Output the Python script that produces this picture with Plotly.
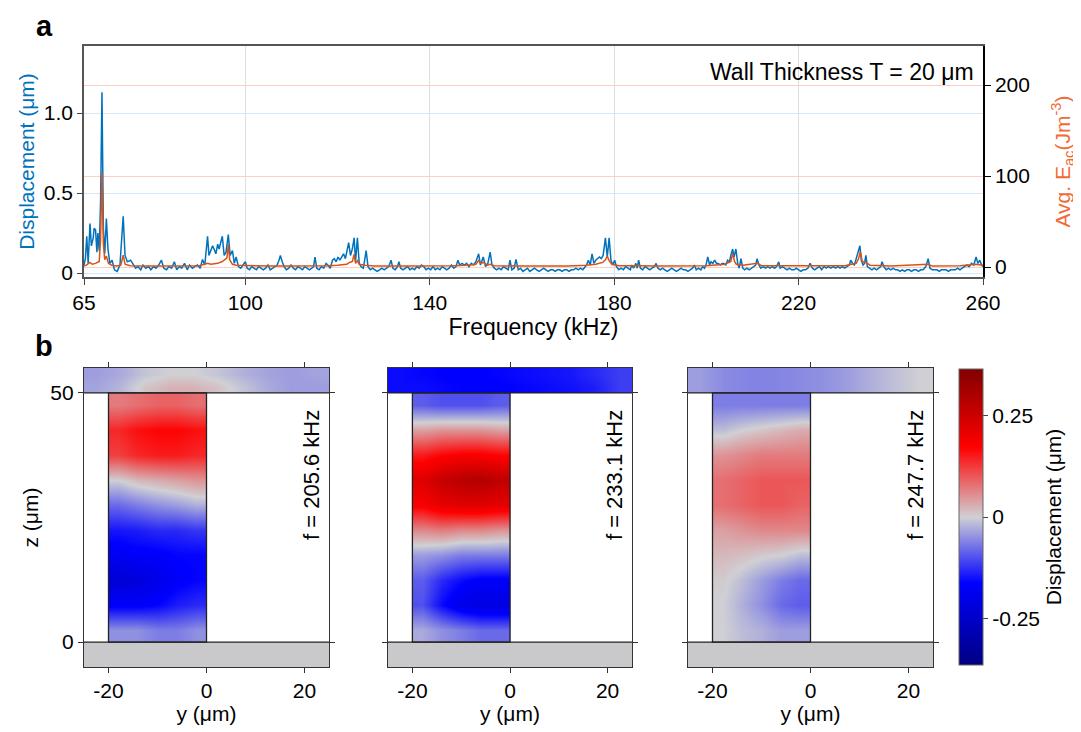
import plotly.graph_objects as go

freq_a = [65.0, 65.3, 65.6, 65.9, 66.3, 66.6, 67.0, 67.2, 67.5, 67.8,
          68.0, 68.3, 68.6, 68.9, 69.2, 69.5, 69.85, 70.2, 70.6, 71.1,
          71.6, 72.2, 72.8, 73.5, 73.9, 74.4, 75.1, 75.6, 76.2, 76.7,
          77.3, 77.8, 78.4, 79.0, 79.5, 80.1, 80.6, 81.2, 81.8, 82.3,
          82.9, 83.4, 84.0, 84.6, 85.1, 85.7, 86.2, 86.8, 87.4, 87.9,
          88.5, 89.0, 89.6, 90.2, 90.7, 91.2, 91.8, 92.1, 92.5, 92.9,
          93.2, 93.6, 94.0, 94.3, 95.0, 95.4, 95.8, 96.3, 96.7, 97.2,
          97.6, 98.0, 98.5, 99.0, 99.5]
disp_a = [0.05, 0.09, 0.23, 0.06, 0.31, 0.17, 0.22, 0.28, 0.27, 0.13,
          0.25, 0.14, 0.45, 1.13, 0.28, 0.12, 0.34, 0.15, 0.06, 0.08,
          0.02, 0.01, 0.05, 0.355, 0.11, 0.07, 0.08, 0.06, 0.03, 0.04,
          0.02, 0.05, 0.03, 0.04, 0.02, 0.04, 0.03, 0.05, 0.08, 0.03,
          0.02, 0.04, 0.03, 0.07, 0.02, 0.04, 0.03, 0.06, 0.02, 0.05,
          0.03, 0.04, 0.05, 0.03, 0.085, 0.05, 0.23, 0.11, 0.14, 0.17,
          0.15, 0.12, 0.18, 0.15, 0.23, 0.11, 0.13, 0.24, 0.11, 0.14,
          0.06, 0.10, 0.04, 0.03, 0.05]

freq_b = [100.0, 100.4, 100.9, 101.4, 101.9, 102.4, 102.9, 103.4, 103.9, 104.4,
          104.9, 105.4, 105.9, 106.4, 106.9, 107.3, 107.6, 108.0, 108.4, 108.9,
          109.4, 109.9, 110.4, 110.9, 111.4, 111.9, 112.4, 112.9, 113.4, 113.9,
          114.4, 114.8, 115.1, 115.5, 116.0, 116.5, 117.0, 117.5, 117.9, 118.4,
          118.9, 119.3, 119.7, 120.1, 120.5, 120.9, 121.3, 121.7, 122.0, 122.4,
          122.8, 123.2, 123.6, 123.9, 124.3, 124.7, 125.1, 125.6, 126.2, 126.6,
          127.1, 127.6, 128.1, 128.6, 129.1, 129.6, 130.1, 130.6, 131.1, 131.6,
          132.0, 132.5, 133.0, 133.3, 133.7, 134.2, 134.7, 135.2, 135.7, 136.2,
          136.7, 137.2, 137.7, 138.2, 138.7, 139.2, 139.7]
disp_b = [0.07, 0.03, 0.02, 0.04, 0.03, 0.02, 0.04, 0.03, 0.02, 0.03,
          0.05, 0.02, 0.03, 0.04, 0.05, 0.08, 0.11, 0.07, 0.04, 0.02,
          0.03, 0.05, 0.03, 0.02, 0.04, 0.03, 0.02, 0.04, 0.03, 0.02,
          0.03, 0.04, 0.10, 0.03, 0.02, 0.04, 0.03, 0.06, 0.05, 0.03,
          0.08, 0.09, 0.07, 0.10, 0.08, 0.10, 0.12, 0.09, 0.13, 0.19,
          0.11, 0.15, 0.22, 0.07, 0.22, 0.06, 0.04, 0.03, 0.14, 0.04,
          0.02, 0.03, 0.02, 0.01, 0.02, 0.03, 0.02, 0.03, 0.04, 0.08,
          0.03, 0.02, 0.04, 0.07, 0.03, 0.02, 0.03, 0.04, 0.02, 0.03,
          0.02, 0.04, 0.03, 0.05, 0.04, 0.02, 0.03]

freq_c = [140.2, 140.7, 141.2, 141.7, 142.2, 142.7, 143.2, 143.7, 144.2, 144.7,
          145.2, 145.7, 146.1, 146.5, 147.0, 147.5, 148.0, 148.5, 149.0, 149.5,
          150.0, 150.6, 151.0, 151.6, 152.1, 152.6, 153.1, 153.5, 154.0, 154.5,
          155.0, 155.5, 156.0, 156.5, 157.0, 157.4, 157.8, 158.3, 158.7, 159.2,
          159.7, 160.2, 160.7, 161.2, 161.7, 162.2, 162.7, 163.2, 163.7, 164.2,
          164.7, 165.2, 165.7, 166.2, 166.7, 167.2, 167.7, 168.2, 168.7, 169.2,
          169.7, 170.2, 170.7, 171.2, 171.7, 172.2, 172.7, 173.2, 173.7, 174.0,
          174.4, 174.8, 175.2, 175.6, 176.0, 176.4, 176.8, 177.2, 177.6, 178.1,
          178.5, 178.9, 179.3, 179.7]
disp_c = [0.02, 0.04, 0.02, 0.03, 0.02, 0.04, 0.03, 0.02, 0.03, 0.05,
          0.03, 0.04, 0.08, 0.05, 0.06, 0.05, 0.06, 0.04, 0.06, 0.05,
          0.07, 0.12, 0.05, 0.10, 0.04, 0.06, 0.13, 0.05, 0.03, 0.02,
          0.03, 0.02, 0.04, 0.03, 0.02, 0.08, 0.02, 0.03, 0.085, 0.02,
          0.03, 0.01, 0.02, 0.03, 0.01, 0.02, 0.03, 0.02, 0.01, 0.02,
          0.03, 0.02, 0.01, 0.02, 0.02, 0.01, 0.02, 0.02, 0.01, 0.02,
          0.02, 0.01, 0.02, 0.02, 0.03, 0.02, 0.03, 0.02, 0.04, 0.05,
          0.08, 0.05, 0.12, 0.06, 0.08, 0.09, 0.10, 0.09, 0.11, 0.22,
          0.10, 0.22, 0.08, 0.05]

freq_d = [180.1, 180.5, 181.0, 181.5, 182.0, 182.5, 183.0, 183.5, 183.8, 184.2,
          184.7, 185.0, 185.3, 185.7, 186.2, 186.7, 187.2, 187.7, 188.2, 188.7,
          189.1, 189.5, 190.0, 190.5, 191.0, 191.5, 192.0, 192.5, 193.0, 193.5,
          194.0, 194.5, 195.0, 195.5, 196.0, 196.5, 197.0, 197.4, 197.8, 198.3,
          198.8, 199.2, 199.6, 200.0, 200.3, 200.7, 201.0, 201.4, 201.8, 202.2,
          202.6, 203.0, 203.4, 203.8, 204.2, 204.6, 205.0, 205.3, 205.7, 206.0,
          206.4, 206.8, 207.1, 207.5, 207.9, 208.3, 208.8, 209.3, 209.8, 210.3,
          210.7, 211.0, 211.4, 211.8, 212.3, 212.8, 213.3, 213.8, 214.3, 214.8,
          215.2, 215.7, 216.0, 216.5, 217.0, 217.5, 218.0, 218.5, 219.0, 219.5]
disp_d = [0.08, 0.04, 0.02, 0.03, 0.02, 0.04, 0.03, 0.02, 0.05, 0.03,
          0.06, 0.03, 0.08, 0.03, 0.02, 0.04, 0.03, 0.02, 0.03, 0.04,
          0.06, 0.03, 0.02, 0.03, 0.02, 0.01, 0.02, 0.03, 0.02, 0.01,
          0.02, 0.03, 0.02, 0.02, 0.01, 0.02, 0.03, 0.05, 0.02, 0.03,
          0.02, 0.04, 0.03, 0.06, 0.10, 0.05, 0.07, 0.06, 0.08, 0.06,
          0.06, 0.05, 0.06, 0.06, 0.05, 0.08, 0.07, 0.11, 0.15, 0.10,
          0.15, 0.06, 0.03, 0.09, 0.03, 0.02, 0.03, 0.02, 0.03, 0.04,
          0.05, 0.09, 0.05, 0.03, 0.04, 0.03, 0.04, 0.03, 0.04, 0.03,
          0.04, 0.07, 0.03, 0.04, 0.03, 0.02, 0.03, 0.02, 0.02, 0.03]

freq_e = [220.0, 220.5, 221.0, 221.5, 222.0, 222.5, 223.0, 223.5, 224.0, 224.5,
          225.0, 225.5, 226.0, 226.5, 227.0, 227.5, 228.0, 228.5, 229.0, 229.5,
          230.0, 230.5, 231.0, 231.3, 231.7, 232.1, 232.5, 232.9, 233.3, 233.6,
          234.0, 234.3, 234.6, 234.9, 235.4, 235.9, 236.4, 236.9, 237.4, 237.8,
          238.1, 238.5, 239.0, 239.5, 240.0, 240.5, 241.0, 241.5, 242.0, 242.5,
          243.0, 243.5, 244.0, 244.5, 245.0, 245.5, 246.0, 246.5, 247.0, 247.6,
          248.1, 248.5, 249.0, 249.5, 250.0, 250.5, 251.0, 251.5, 252.0, 252.5,
          253.0, 253.5, 254.0, 254.5, 255.0, 255.5, 256.0, 256.5, 257.0, 257.5,
          258.0, 258.5, 258.9, 259.3, 259.7, 260.0]
disp_e = [0.02, 0.01, 0.02, 0.02, 0.03, 0.06, 0.03, 0.02, 0.03, 0.04,
          0.02, 0.04, 0.03, 0.04, 0.03, 0.04, 0.03, 0.04, 0.03, 0.04,
          0.03, 0.04, 0.05, 0.08, 0.06, 0.05, 0.09, 0.14, 0.17, 0.08,
          0.05, 0.06, 0.11, 0.04, 0.03, 0.02, 0.03, 0.02, 0.03, 0.04,
          0.07, 0.04, 0.02, 0.03, 0.02, 0.03, 0.02, 0.02, 0.01, 0.02,
          0.01, 0.02, 0.02, 0.01, 0.02, 0.02, 0.01, 0.02, 0.02, 0.04,
          0.09, 0.03, 0.02, 0.02, 0.02, 0.01, 0.02, 0.02, 0.02, 0.01,
          0.02, 0.02, 0.02, 0.03, 0.02, 0.03, 0.04, 0.05, 0.04, 0.06,
          0.05, 0.10, 0.06, 0.08, 0.05, 0.04]

# average acoustic energy density (J/m^3)
eac_freq = [65.0, 65.5, 66.3, 66.8, 67.5, 68.3, 68.6, 68.9, 69.2, 69.5,
            69.85, 70.3, 71.0, 72.0, 73.0, 73.5, 73.9, 75.0, 80.0, 85.0,
            90.0, 91.8, 92.5, 94.0, 95.0, 96.0, 96.3, 96.6, 97.2, 98.0,
            100.0, 105.0, 110.0, 115.0, 118.0, 120.0, 122.0, 122.6, 123.2, 123.6,
            123.9, 124.3, 124.7, 126.0, 128.0, 135.0, 140.0, 145.0, 148.0, 150.0,
            150.6, 151.0, 151.6, 152.5, 153.1, 154.0, 160.0, 170.0, 174.0, 176.0,
            177.5, 178.1, 178.5, 178.9, 179.5, 181.0, 185.0, 190.0, 200.0, 202.0,
            204.0, 205.3, 205.7, 206.1, 206.5, 208.0, 211.0, 212.0, 215.0, 220.0,
            230.0, 232.5, 233.0, 233.4, 233.8, 234.6, 235.5, 240.0, 248.1, 249.0,
            255.0, 258.5, 260.0]
eac_val = [1, 2, 5, 3, 4, 6, 30, 104, 25, 8,
           12, 4, 2, 1, 2, 13, 3, 1.5, 1, 1,
           1.5, 4, 3, 4, 6, 10, 25, 8, 3, 2,
           1.5, 1, 1, 1, 1.5, 2, 3, 5, 6, 14,
           4, 7, 3, 2, 1, 1, 1, 1.5, 2, 3,
           7, 4, 5, 2, 3, 1.5, 1, 1, 2, 3,
           5, 8, 12, 7, 3, 1.5, 1.5, 1, 1.5, 2,
           3, 6, 15, 6, 3, 2, 4, 1.5, 1.5, 1,
           1.5, 4, 9, 17, 6, 5, 2, 1, 3, 1,
           1.5, 3, 2]

freq_ticks = [65, 100, 140, 180, 220, 260]

wall_y = [-18, -14, -10, -6, -2]
wall_z = [2.5, 7.5, 12.5, 17.5, 22.5, 27.5, 32.5, 37.5, 42.5, 47.5]
plate_y = [-22.5, -17.5, -12.5, -7.5, -2.5, 2.5, 7.5, 12.5, 17.5, 22.5]
plate_z = [51.25, 53.75]

mode_freqs = ["205.6", "233.1", "247.7"]

wall_1 = [[-0.05, -0.05, -0.065, -0.065, -0.05],
          [-0.17, -0.17, -0.16, -0.14, -0.13],
          [-0.23, -0.22, -0.195, -0.17, -0.16],
          [-0.18, -0.17, -0.17, -0.16, -0.16],
          [-0.145, -0.14, -0.13, -0.13, -0.12],
          [-0.08, -0.065, -0.05, -0.04, -0.025],
          [0.00, 0.02, 0.03, 0.04, 0.05],
          [0.12, 0.14, 0.15, 0.15, 0.14],
          [0.14, 0.16, 0.17, 0.17, 0.16],
          [0.07, 0.08, 0.09, 0.09, 0.08]]
plate_1 = [[-0.035, -0.02, 0.01, 0.025, 0.025, 0.01, -0.01, -0.03, -0.04, -0.04],
           [-0.04, -0.03, -0.01, 0.0, 0.0, -0.01, -0.025, -0.035, -0.04, -0.035]]

wall_2 = [[-0.03, -0.05, -0.065, -0.08, -0.08],
          [-0.10, -0.155, -0.195, -0.21, -0.21],
          [-0.09, -0.13, -0.155, -0.17, -0.17],
          [-0.04, -0.05, -0.065, -0.065, -0.065],
          [0.06, 0.07, 0.06, 0.06, 0.05],
          [0.18, 0.21, 0.22, 0.22, 0.21],
          [0.22, 0.26, 0.28, 0.29, 0.27],
          [0.15, 0.17, 0.18, 0.18, 0.17],
          [0.04, 0.05, 0.05, 0.05, 0.04],
          [-0.09, -0.10, -0.10, -0.10, -0.09]]
plate_2 = [[-0.155, -0.155, -0.16, -0.165, -0.165, -0.16, -0.155, -0.15, -0.14, -0.115],
           [-0.155, -0.16, -0.165, -0.165, -0.16, -0.155, -0.15, -0.145, -0.13, -0.115]]

wall_3 = [[0.00, -0.015, -0.025, -0.04, -0.04],
          [0.00, -0.025, -0.05, -0.08, -0.09],
          [0.005, -0.015, -0.04, -0.065, -0.08],
          [0.02, 0.015, 0.005, 0.00, -0.015],
          [0.04, 0.05, 0.06, 0.06, 0.06],
          [0.08, 0.09, 0.10, 0.10, 0.09],
          [0.08, 0.09, 0.10, 0.10, 0.10],
          [0.05, 0.06, 0.07, 0.07, 0.07],
          [-0.015, 0.00, 0.01, 0.02, 0.03],
          [-0.065, -0.065, -0.065, -0.065, -0.065]]
plate_3 = [[-0.04, -0.055, -0.06, -0.06, -0.055, -0.05, -0.04, -0.025, -0.012, 0.0],
           [-0.04, -0.055, -0.06, -0.06, -0.055, -0.05, -0.04, -0.025, -0.012, 0.0]]

# geometry of the cross section (um)
WALL_Y0, WALL_Y1 = -20, 0
WALL_TOP = 50
PLATE_TOP = 55
SUB_BOTTOM = -5

# page has an 8px body margin, so the figure is made smaller and shifted
OFF = 8
W, H = 1081 - OFF, 732 - OFF
FONT = "Liberation Sans, Arial, sans-serif"
BLUE = "#0072BD"
ORANGE = "#D95319"


def fx(p):
    return (p - OFF) / W


def fy(p):
    return 1 - (p - OFF) / H


fig = go.Figure()

fig.add_trace(go.Scatter(x=freq_a + freq_b + freq_c + freq_d + freq_e,
                         y=disp_a + disp_b + disp_c + disp_d + disp_e,
                         mode="lines", line=dict(color=BLUE, width=1.5),
                         xaxis="x", yaxis="y"))
fig.add_trace(go.Scatter(x=eac_freq, y=eac_val, mode="lines",
                         line=dict(color=ORANGE, width=1.5),
                         xaxis="x", yaxis="y2"))

walls = [wall_1, wall_2, wall_3]
plates = [plate_1, plate_2, plate_3]
for i in range(3):
    n = str(i + 3)
    fig.add_trace(go.Heatmap(x=wall_y, y=wall_z, z=walls[i], zsmooth="best",
                             coloraxis="coloraxis", xaxis="x" + n, yaxis="y" + n,
                             hoverinfo="skip"))
    fig.add_trace(go.Heatmap(x=plate_y, y=plate_z, z=plates[i], zsmooth="best",
                             coloraxis="coloraxis", xaxis="x" + n, yaxis="y" + n,
                             hoverinfo="skip"))

tickfont = dict(family=FONT, size=21, color="black")
titlefont = dict(family=FONT, size=21, color="black")

layout = dict(
    width=W, height=H,
    margin=dict(l=0, r=0, t=0, b=0),
    paper_bgcolor="white", plot_bgcolor="white",
    showlegend=False,
    font=dict(family=FONT, size=21, color="black"),
    xaxis=dict(domain=[fx(84), fx(983)], anchor="y", range=[65, 260],
               tickvals=freq_ticks, ticks="outside", ticklen=6, tickcolor="#444",
               showline=True, linecolor="#555", linewidth=1.5, mirror=True,
               showgrid=True, gridcolor="rgb(222,222,222)", gridwidth=1.2,
               zeroline=False, tickfont=tickfont, automargin=False,
               title=dict(text="Frequency (kHz)",
                          font=dict(family=FONT, size=23, color="black"), standoff=3)),
    yaxis=dict(domain=[fy(277), fy(46)], anchor="x", range=[-0.025, 1.42],
               tickvals=[0, 0.5, 1.0], ticktext=["0", "0.5", "1.0"],
               ticks="outside", ticklen=5, tickcolor="#444",
               showline=True, linecolor="#555", linewidth=1.5,
               showgrid=True, gridcolor="rgb(214,232,246)", gridwidth=1.2,
               zeroline=False, tickfont=tickfont, automargin=False,
               title=dict(text="Displacement (μm)",
                          font=dict(family=FONT, size=21, color=BLUE), standoff=3)),
    yaxis2=dict(overlaying="y", side="right", anchor="x", range=[-11, 243],
                tickvals=[0, 100, 200], ticks="outside", ticklen=6, tickcolor="black",
                showline=True, linecolor="black", linewidth=1.5,
                showgrid=True, gridcolor="rgb(252,208,192)", gridwidth=1.2,
                zeroline=False, tickfont=tickfont, automargin=False,
                title=dict(text="Avg. E<sub>ac</sub>(Jm<sup>-3</sup>)",
                           font=dict(family=FONT, size=21, color="#F26A35"), standoff=26)),
    coloraxis=dict(
        cmin=-0.365, cmax=0.365,
        colorscale=[[0.0, "rgb(0,0,130)"], [0.277, "rgb(0,0,255)"],
                    [0.5, "rgb(208,208,212)"], [0.736, "rgb(255,0,0)"],
                    [1.0, "rgb(130,0,0)"]],
        colorbar=dict(x=fx(959), xanchor="left", y=fy(369), yanchor="top",
                      len=296 / H, lenmode="fraction", thickness=24,
                      xpad=0, ypad=0,
                      outlinecolor="#666", outlinewidth=1,
                      ticks="outside", ticklen=5, tickcolor="#444",
                      tickvals=[-0.25, 0, 0.25], ticktext=["-0.25", "0", "0.25"],
                      tickfont=tickfont,
                      title=dict(text="Displacement (μm)", side="right",
                                 font=titlefont)),
    ),
)

panel_px = [(84, 329), (388, 632), (688, 933)]
shapes = []
annotations = []
for i, (left, right) in enumerate(panel_px):
    n = str(i + 3)
    layout["xaxis" + n] = dict(
        domain=[fx(left), fx(right)], anchor="y" + n, range=[-25, 25],
        tickvals=[-20, 0, 20], ticktext=["-20", "0", "20"],
        ticks="outside", ticklen=5, tickcolor="#333",
        showline=True, linecolor="#333", linewidth=1.2, mirror="ticks",
        showgrid=False, zeroline=False, tickfont=tickfont, automargin=False,
        title=dict(text="y (μm)", font=titlefont, standoff=2))
    yax = dict(
        domain=[fy(667), fy(368)], anchor="x" + n, range=[SUB_BOTTOM, PLATE_TOP],
        tickvals=[0, WALL_TOP], ticks="outside", ticklen=5, tickcolor="#333",
        showticklabels=(i == 0),
        showline=True, linecolor="#333", linewidth=1.2, mirror="ticks",
        showgrid=False, zeroline=False, tickfont=tickfont, automargin=False)
    if i == 0:
        yax["title"] = dict(text="z (μm)", font=titlefont, standoff=5)
    layout["yaxis" + n] = yax
    xr, yr = "x" + n, "y" + n
    # substrate
    shapes.append(dict(type="rect", xref=xr, yref=yr, x0=-25, x1=25,
                       y0=SUB_BOTTOM, y1=0, fillcolor="rgb(201,201,204)",
                       line=dict(width=0), layer="below"))
    # wall outline
    shapes.append(dict(type="rect", xref=xr, yref=yr, x0=WALL_Y0, x1=WALL_Y1,
                       y0=0, y1=WALL_TOP, line=dict(color="#222", width=1.3)))
    for zz in (0, WALL_TOP):
        shapes.append(dict(type="line", xref=xr, yref=yr, x0=-25, x1=25,
                           y0=zz, y1=zz, line=dict(color="#222", width=1.3)))
    annotations.append(dict(xref=xr, yref=yr, x=21.3, y=33.5,
                            text="f = " + mode_freqs[i] + " kHz", textangle=-90,
                            showarrow=False, font=dict(family=FONT, size=22)))

annotations += [
    dict(xref="paper", yref="paper", x=fx(44), y=1.0, xanchor="center",
         yanchor="top", text="<b>a</b>", showarrow=False,
         font=dict(family=FONT, size=29)),
    dict(xref="paper", yref="paper", x=fx(44), y=fy(346), xanchor="center",
         yanchor="middle", text="<b>b</b>", showarrow=False,
         font=dict(family=FONT, size=29)),
    dict(xref="paper", yref="paper", x=fx(976), y=fy(72), xanchor="right",
         yanchor="middle", text="Wall Thickness T = 20 μm", showarrow=False,
         font=dict(family=FONT, size=23)),
]
layout["shapes"] = shapes
layout["annotations"] = annotations

fig.update_layout(layout)
fig.write_html("out.html")
